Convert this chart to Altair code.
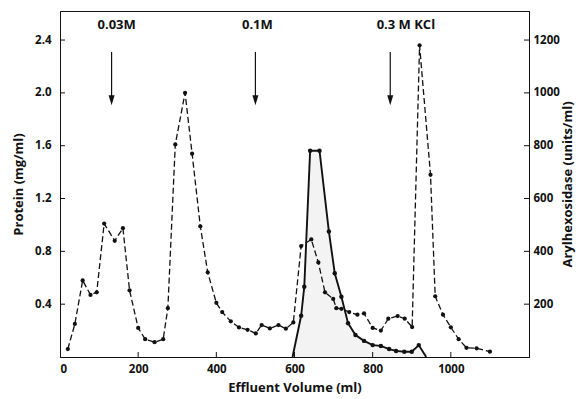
import altair as alt
import pandas as pd

# Protein elution profile (mg/ml) versus effluent volume (ml)
prot_vol = [20, 38, 58, 78, 94, 113, 140, 161, 178, 200, 218, 242, 264, 276, 295,
            320, 338, 359, 378, 400, 415, 437, 458, 480, 501, 516, 537, 559, 578,
            597, 617, 643, 661, 678, 699, 707, 720, 740, 761, 778, 800, 821, 840,
            864, 882, 901, 920, 948, 960, 980, 1000, 1020, 1040, 1066, 1100]
prot_mg = [0.06, 0.25, 0.58, 0.47, 0.49, 1.01, 0.88, 0.975, 0.505, 0.22, 0.135,
           0.112, 0.135, 0.37, 1.61, 2.0, 1.54, 0.99, 0.64, 0.41, 0.34, 0.27,
           0.224, 0.206, 0.178, 0.242, 0.216, 0.242, 0.214, 0.262, 0.84, 0.89,
           0.716, 0.49, 0.44, 0.37, 0.365, 0.34, 0.32, 0.33, 0.22, 0.2, 0.29,
           0.31, 0.29, 0.227, 2.36, 1.38, 0.46, 0.32, 0.225, 0.135, 0.07, 0.066,
           0.04]

# Arylhexosidase activity (units/ml)
aryl_vol = [595, 617, 625, 640, 664, 688, 703, 720, 737, 756, 778, 800, 821, 842,
            860, 881, 900, 918, 937]
aryl_units = [0, 156, 266, 781, 781, 475, 317, 228, 128, 83, 61, 45, 42, 30, 23,
              20, 20, 45, 0]

# Salt steps of the elution
step_vol = [132, 500, 845]
step_label_vol = [145, 505, 885]
step_labels = ["0.03M", "0.1M", "0.3 M KCl"]

x_ticks = [0, 200, 400, 600, 800, 1000]
prot_ticks = [0.4, 0.8, 1.2, 1.6, 2.0, 2.4]
aryl_ticks = [200, 400, 600, 800, 1000, 1200]

W, H = 469, 346
FONT = "Open Sans"
INK = "#111111"

x_scale = alt.Scale(domain=[0, 1200], nice=False, zero=False)
yp_scale = alt.Scale(domain=[0, 2.62], nice=False)
ya_scale = alt.Scale(domain=[0, 1310], nice=False)

prot = pd.DataFrame({"vol": prot_vol, "mg": prot_mg})
aryl = pd.DataFrame({"vol": aryl_vol, "units": aryl_units})
steps = pd.DataFrame({"vol": step_vol, "label_vol": step_label_vol, "label": step_labels})
xt = pd.DataFrame({"v": x_ticks[1:]})
pt = pd.DataFrame({"v": prot_ticks})
at = pd.DataFrame({"v": aryl_ticks})

x_axis = alt.Axis(values=x_ticks, format="d", tickSize=0, ticks=False, grid=False,
                  domainColor=INK, labelFont=FONT, labelFontSize=11.5,
                  labelFontWeight="bold", labelColor=INK, labelPadding=6,
                  title="Effluent Volume (ml)", titleFont=FONT, titleFontSize=13,
                  titleFontWeight="bold", titleColor=INK, titlePadding=7)
yp_axis = alt.Axis(orient="left", values=prot_ticks, format=".1f", tickSize=0,
                   ticks=False, grid=False, domainColor=INK, labelFont=FONT,
                   labelFontSize=11.5, labelFontWeight="bold", labelColor=INK,
                   labelPadding=9, title="Protein (mg/ml)", titleFont=FONT,
                   titleFontSize=13, titleFontWeight="bold", titleColor=INK,
                   titlePadding=9)
ya_axis = alt.Axis(orient="right", values=aryl_ticks, format="d", tickSize=0,
                   ticks=False, grid=False, domainColor=INK, labelFont=FONT,
                   labelFontSize=11.5, labelFontWeight="bold", labelColor=INK,
                   labelPadding=4, title="Arylhexosidase (units/ml)", titleAngle=270,
                   titleBaseline="top", titleFont=FONT, titleFontSize=13,
                   titleFontWeight="bold", titleColor=INK, titlePadding=2)

# Arylhexosidase: faint shading under a solid line with dots
aryl_area = alt.Chart(aryl).mark_area(color="#d8d8d8", opacity=0.3).encode(
    x=alt.X("vol:Q", scale=x_scale, axis=x_axis),
    y=alt.Y("units:Q", scale=ya_scale, axis=ya_axis))
aryl_line = alt.Chart(aryl).mark_line(color=INK, strokeWidth=1.9).encode(
    x=alt.X("vol:Q"), y=alt.Y("units:Q"))
aryl_pts = alt.Chart(aryl).transform_filter("datum.units > 0").mark_circle(
    color=INK, size=20, opacity=1).encode(x=alt.X("vol:Q"), y=alt.Y("units:Q"))
right_ticks = alt.Chart(at).mark_rule(color=INK, strokeWidth=1).encode(
    y=alt.Y("v:Q"), x=alt.value(W - 5), x2=alt.value(W))

aryl_layer = alt.layer(aryl_area, aryl_line, aryl_pts, right_ticks)

# Protein: dashed line with dots
prot_line = alt.Chart(prot).mark_line(color=INK, strokeWidth=1.3, strokeDash=[6, 3]).encode(
    x=alt.X("vol:Q"), y=alt.Y("mg:Q", scale=yp_scale, axis=yp_axis))
prot_pts = alt.Chart(prot).mark_circle(color=INK, size=18, opacity=1).encode(
    x=alt.X("vol:Q"), y=alt.Y("mg:Q"))

# inward ticks on left and bottom axes
left_ticks = alt.Chart(pt).mark_rule(color=INK, strokeWidth=1).encode(
    y=alt.Y("v:Q"), x=alt.value(0), x2=alt.value(5))
bottom_ticks = alt.Chart(xt).mark_rule(color=INK, strokeWidth=1).encode(
    x=alt.X("v:Q"), y=alt.value(H), y2=alt.value(H - 5))

# salt-step arrows and labels
arrow_shaft = alt.Chart(steps).mark_rule(color=INK, strokeWidth=1.2).encode(
    x=alt.X("vol:Q"), y=alt.datum(2.31), y2=alt.datum(1.97))
arrow_head = alt.Chart(steps).mark_point(
    shape="M-0.6,-1L0.6,-1L0,1Z", filled=True, color=INK, size=100, opacity=1
).encode(x=alt.X("vol:Q"), y=alt.datum(1.945))
step_text = alt.Chart(steps).mark_text(
    font=FONT, fontSize=13, fontWeight="bold", color=INK, baseline="middle"
).encode(x=alt.X("label_vol:Q"), y=alt.datum(2.515), text="label:N")

protein_layer = alt.layer(prot_line, prot_pts, left_ticks, bottom_ticks,
                          arrow_shaft, arrow_head, step_text)

chart = alt.layer(aryl_layer, protein_layer).resolve_scale(y="independent").properties(
    width=W, height=H,
    autosize=alt.AutoSizeParams(type="none"),
    padding={"left": 60, "top": 11, "right": 49, "bottom": 42},
    background="white",
).configure_view(stroke=INK, strokeWidth=1)

chart.save("out.html", embed_options={"renderer": "svg", "actions": False})
